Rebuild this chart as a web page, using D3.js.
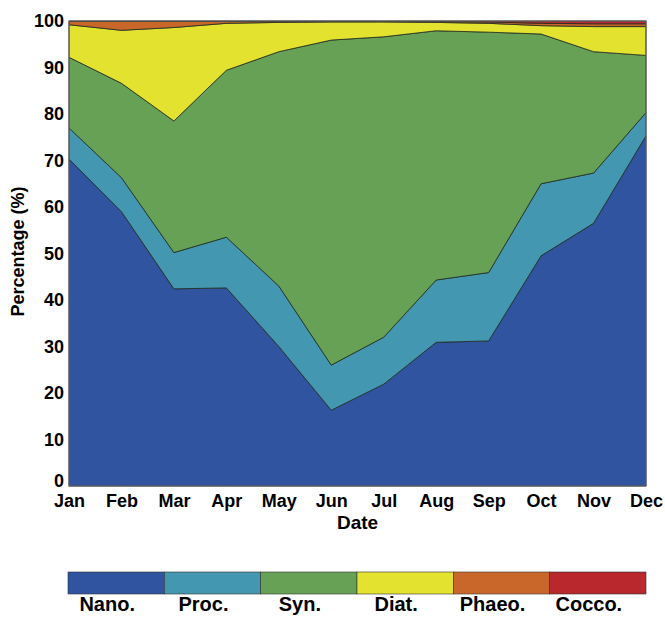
<!DOCTYPE html>
<html>
<head>
<meta charset="utf-8">
<script src="https://cdn.jsdelivr.net/npm/d3@7"></script>
<style>
  html, body { margin: 0; padding: 0; background: #fff; }
  svg { display: block; }
  text { font-family: "Liberation Sans", Arial, Helvetica, sans-serif; font-weight: bold; fill: #000; }
</style>
</head>
<body>
<svg id="chart" width="665" height="617"></svg>
<script>
// Monthly share of each phytoplankton group (% of total)
const months = ["Jan","Feb","Mar","Apr","May","Jun","Jul","Aug","Sep","Oct","Nov","Dec"];
const groups = ["Nano.","Proc.","Syn.","Diat.","Phaeo.","Cocco."];
const nano  = [70.3, 59.0, 42.4, 42.6, 30.0, 16.3, 21.9, 30.9, 31.2, 49.5, 56.5, 75.3];
const proc  = [ 6.7,  7.3,  7.8, 10.9, 13.0,  9.7, 10.1, 13.4, 14.7, 15.5, 10.8,  5.0];
const syn   = [15.2, 20.3, 28.3, 35.9, 50.4, 69.9, 64.6, 53.6, 51.7, 32.2, 26.1, 12.3];
const diat  = [ 7.0, 11.4, 20.1, 10.1,  6.3,  3.9,  3.2,  1.8,  1.9,  1.8,  5.4,  6.2];
const phaeo = [ 0.7,  1.9,  1.3,  0.4,  0.2,  0.1,  0.1,  0.2,  0.3,  0.5,  0.6,  0.6];
const cocco = [ 0.1,  0.1,  0.1,  0.1,  0.1,  0.1,  0.1,  0.1,  0.2,  0.5,  0.6,  0.6];
const yTicks = [0,10,20,30,40,50,60,70,80,90,100];
const colors = ["#3054a0","#4497b0","#66a155","#e3e22e","#c9672a","#b8282c"];

const series = [nano, proc, syn, diat, phaeo, cocco];
const rows = months.map((m, i) => {
  const r = { month: m };
  groups.forEach((g, k) => { r[g] = series[k][i]; });
  return r;
});

const svg = d3.select("#chart");
const plot = { left: 69, right: 646, top: 21, bottom: 486 };

const x = d3.scalePoint().domain(months).range([plot.left, plot.right]);
const y = d3.scaleLinear().domain([0, 100]).range([plot.bottom, plot.top]);
const color = d3.scaleOrdinal().domain(groups).range(colors);

const stacked = d3.stack().keys(groups)(rows);

const area = d3.area()
  .x(d => x(d.data.month))
  .y0(d => y(d[0]))
  .y1(d => y(Math.min(100, d[1])));

svg.append("g")
  .selectAll("path")
  .data(stacked)
  .join("path")
  .attr("d", area)
  .attr("fill", d => color(d.key))
  .attr("stroke", "#1e2a22")
  .attr("stroke-width", 0.8)
  .attr("stroke-linejoin", "round");

// plot frame
svg.append("rect")
  .attr("x", plot.left).attr("y", plot.top)
  .attr("width", plot.right - plot.left).attr("height", plot.bottom - plot.top)
  .attr("fill", "none").attr("stroke", "#666").attr("stroke-width", 1.2);

// y axis
const yAxis = d3.axisLeft(y).tickValues(yTicks).tickSize(0).tickPadding(5);
const gy = svg.append("g").attr("transform", `translate(${plot.left},0)`).call(yAxis);
gy.select(".domain").remove();
gy.selectAll("text").style("font-size", "18px").attr("fill", "#000");
gy.selectAll(".tick").filter(d => d === 0).select("text").attr("dy", "0em");

// x axis
const xAxis = d3.axisBottom(x).tickSize(0).tickPadding(8);
const gx = svg.append("g").attr("transform", `translate(0,${plot.bottom})`).call(xAxis);
gx.select(".domain").remove();
gx.selectAll("text").style("font-size", "18px").attr("fill", "#000");

// axis titles
svg.append("text")
  .attr("x", (plot.left + plot.right) / 2).attr("y", 529)
  .attr("text-anchor", "middle").style("font-size", "19px")
  .text("Date");

svg.append("text")
  .attr("transform", `translate(24,${(plot.top + plot.bottom) / 2 - 2}) rotate(-90)`)
  .attr("text-anchor", "middle").style("font-size", "18px")
  .text("Percentage (%)");

// colour key
const key = { left: 68, right: 646, top: 572, h: 22 };
const kx = d3.scaleBand().domain(groups).range([key.left, key.right]);
const gk = svg.append("g");
gk.selectAll("rect")
  .data(groups)
  .join("rect")
  .attr("x", d => kx(d)).attr("y", key.top)
  .attr("width", kx.bandwidth()).attr("height", key.h)
  .attr("fill", d => color(d))
  .attr("stroke", "#333").attr("stroke-width", 0.6);
gk.selectAll("text")
  .data(groups)
  .join("text")
  .attr("x", d => kx(d) + kx.bandwidth() / 2 - 9)
  .attr("y", 611)
  .attr("text-anchor", "middle").style("font-size", "20px")
  .text(d => d);
</script>
</body>
</html>
